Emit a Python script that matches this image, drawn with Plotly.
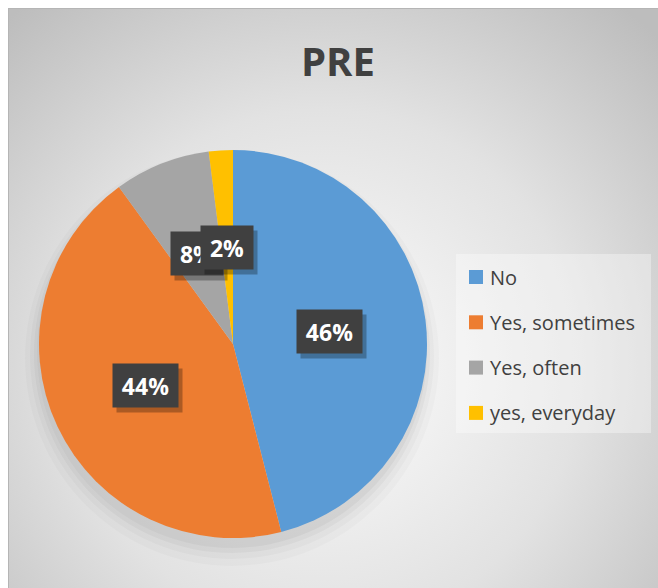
import base64
import math
import plotly.graph_objects as go

# Survey answers and their shares (percent)
categories = ["No", "Yes, sometimes", "Yes, often", "yes, everyday"]
shares = [46, 44, 8, 2]
colors = ["#5B9BD5", "#ED7D31", "#A5A5A5", "#FFC000"]
title_text = "PRE"

W, H = 658, 588
# pie placement in pixels
CX, CY, R = 233, 344, 194

def px(x):
    return x / W

def py(y):
    return 1 - y / H

# radial gradient chart-area background as an inline svg
svg = (
    "<svg xmlns='http://www.w3.org/2000/svg' width='650' height='580'>"
    "<defs><radialGradient id='g' cx='315' cy='360' r='470' gradientUnits='userSpaceOnUse'>"
    "<stop offset='0' stop-color='#fdfdfd'/><stop offset='0.55' stop-color='#e2e2e2'/>"
    "<stop offset='1' stop-color='#bdbdbd'/></radialGradient></defs>"
    "<rect width='650' height='580' fill='url(#g)'/></svg>"
)
bg_uri = "data:image/svg+xml;base64," + base64.b64encode(svg.encode()).decode()

fig = go.Figure()
fig.add_trace(go.Pie(
    labels=categories,
    values=shares,
    marker=dict(colors=colors, line=dict(width=0)),
    sort=False,
    direction="clockwise",
    rotation=0,
    textinfo="none",
    hoverinfo="label+percent",
    showlegend=False,
    domain=dict(x=[px(CX - R), px(CX + R)], y=[py(CY + R), py(CY - R)]),
))

shapes = []
annotations = []

# soft shadow beneath the pie, falling mostly downward
for grow, off, a in [(2, 8, 0.035), (5, 10, 0.03), (9, 12, 0.025), (14, 14, 0.02)]:
    shapes.append(dict(
        type="circle", xref="paper", yref="paper", layer="below",
        x0=px(CX - R - grow), x1=px(CX + R + grow - 2),
        y0=py(CY + R + grow + off), y1=py(CY - R - grow + off),
        fillcolor=f"rgba(0,0,0,{a})", line=dict(width=0),
    ))

# frame edges
shapes.append(dict(type="line", xref="paper", yref="paper", x0=px(8), x1=1, y0=py(8.5), y1=py(8.5),
                   line=dict(color="#b5b5b5", width=1)))
shapes.append(dict(type="line", xref="paper", yref="paper", x0=px(8.5), x1=px(8.5), y0=0, y1=py(8),
                   line=dict(color="#b5b5b5", width=1)))

# percentage labels at half radius along each slice's mid-angle
total = sum(shares)
cum = 0
for val in shares:
    mid = (cum + val / 2) / total * 2 * math.pi
    cum += val
    lx = CX + 0.5 * R * math.sin(mid)
    ly = CY - 0.5 * R * math.cos(mid)
    txt = f"{round(val / total * 100)}%"
    box_w = 37 + 13 * (len(txt) - 1)
    common = dict(x=px(lx), y=py(ly), xref="paper", yref="paper", showarrow=False,
                  xanchor="center", yanchor="middle", width=box_w, height=41)
    annotations.append(dict(common, text="", bgcolor="rgba(0,0,0,0.28)", xshift=4, yshift=-5))
    annotations.append(dict(common, text=f"<b>{txt}</b>", bgcolor="#404040",
                            font=dict(family="Open Sans", size=23, color="white")))

# legend box with swatches
shapes.append(dict(type="rect", xref="paper", yref="paper", layer="below",
                   x0=px(456), x1=px(651), y0=py(433), y1=py(254),
                   fillcolor="rgba(255,255,255,0.35)", line=dict(width=0)))
for i, (cat, col) in enumerate(zip(categories, colors)):
    ry = 277 + i * 45.3
    shapes.append(dict(type="rect", xref="paper", yref="paper",
                       x0=px(469), x1=px(483), y0=py(ry + 7), y1=py(ry - 7),
                       fillcolor=col, line=dict(width=0)))
    annotations.append(dict(
        x=px(488), y=py(ry), xref="paper", yref="paper", text=cat, showarrow=False,
        xanchor="left", yanchor="middle",
        font=dict(family="Open Sans", size=20, color="#404040"),
    ))

# title
annotations.append(dict(
    x=px(338.5), y=py(61), xref="paper", yref="paper", text=f"<b>{title_text}</b>", showarrow=False,
    xanchor="center", yanchor="middle",
    font=dict(family="Open Sans", size=40, color="#404040"),
))

fig.update_layout(
    width=W, height=H,
    margin=dict(l=0, r=0, t=0, b=0),
    paper_bgcolor="white",
    plot_bgcolor="rgba(0,0,0,0)",
    images=[dict(source=bg_uri, xref="paper", yref="paper", x=px(8), y=py(8),
                 sizex=1 - px(8), sizey=py(8), xanchor="left", yanchor="top",
                 sizing="stretch", layer="below")],
    shapes=shapes,
    annotations=annotations,
    showlegend=False,
)

fig.write_html("out.html")
